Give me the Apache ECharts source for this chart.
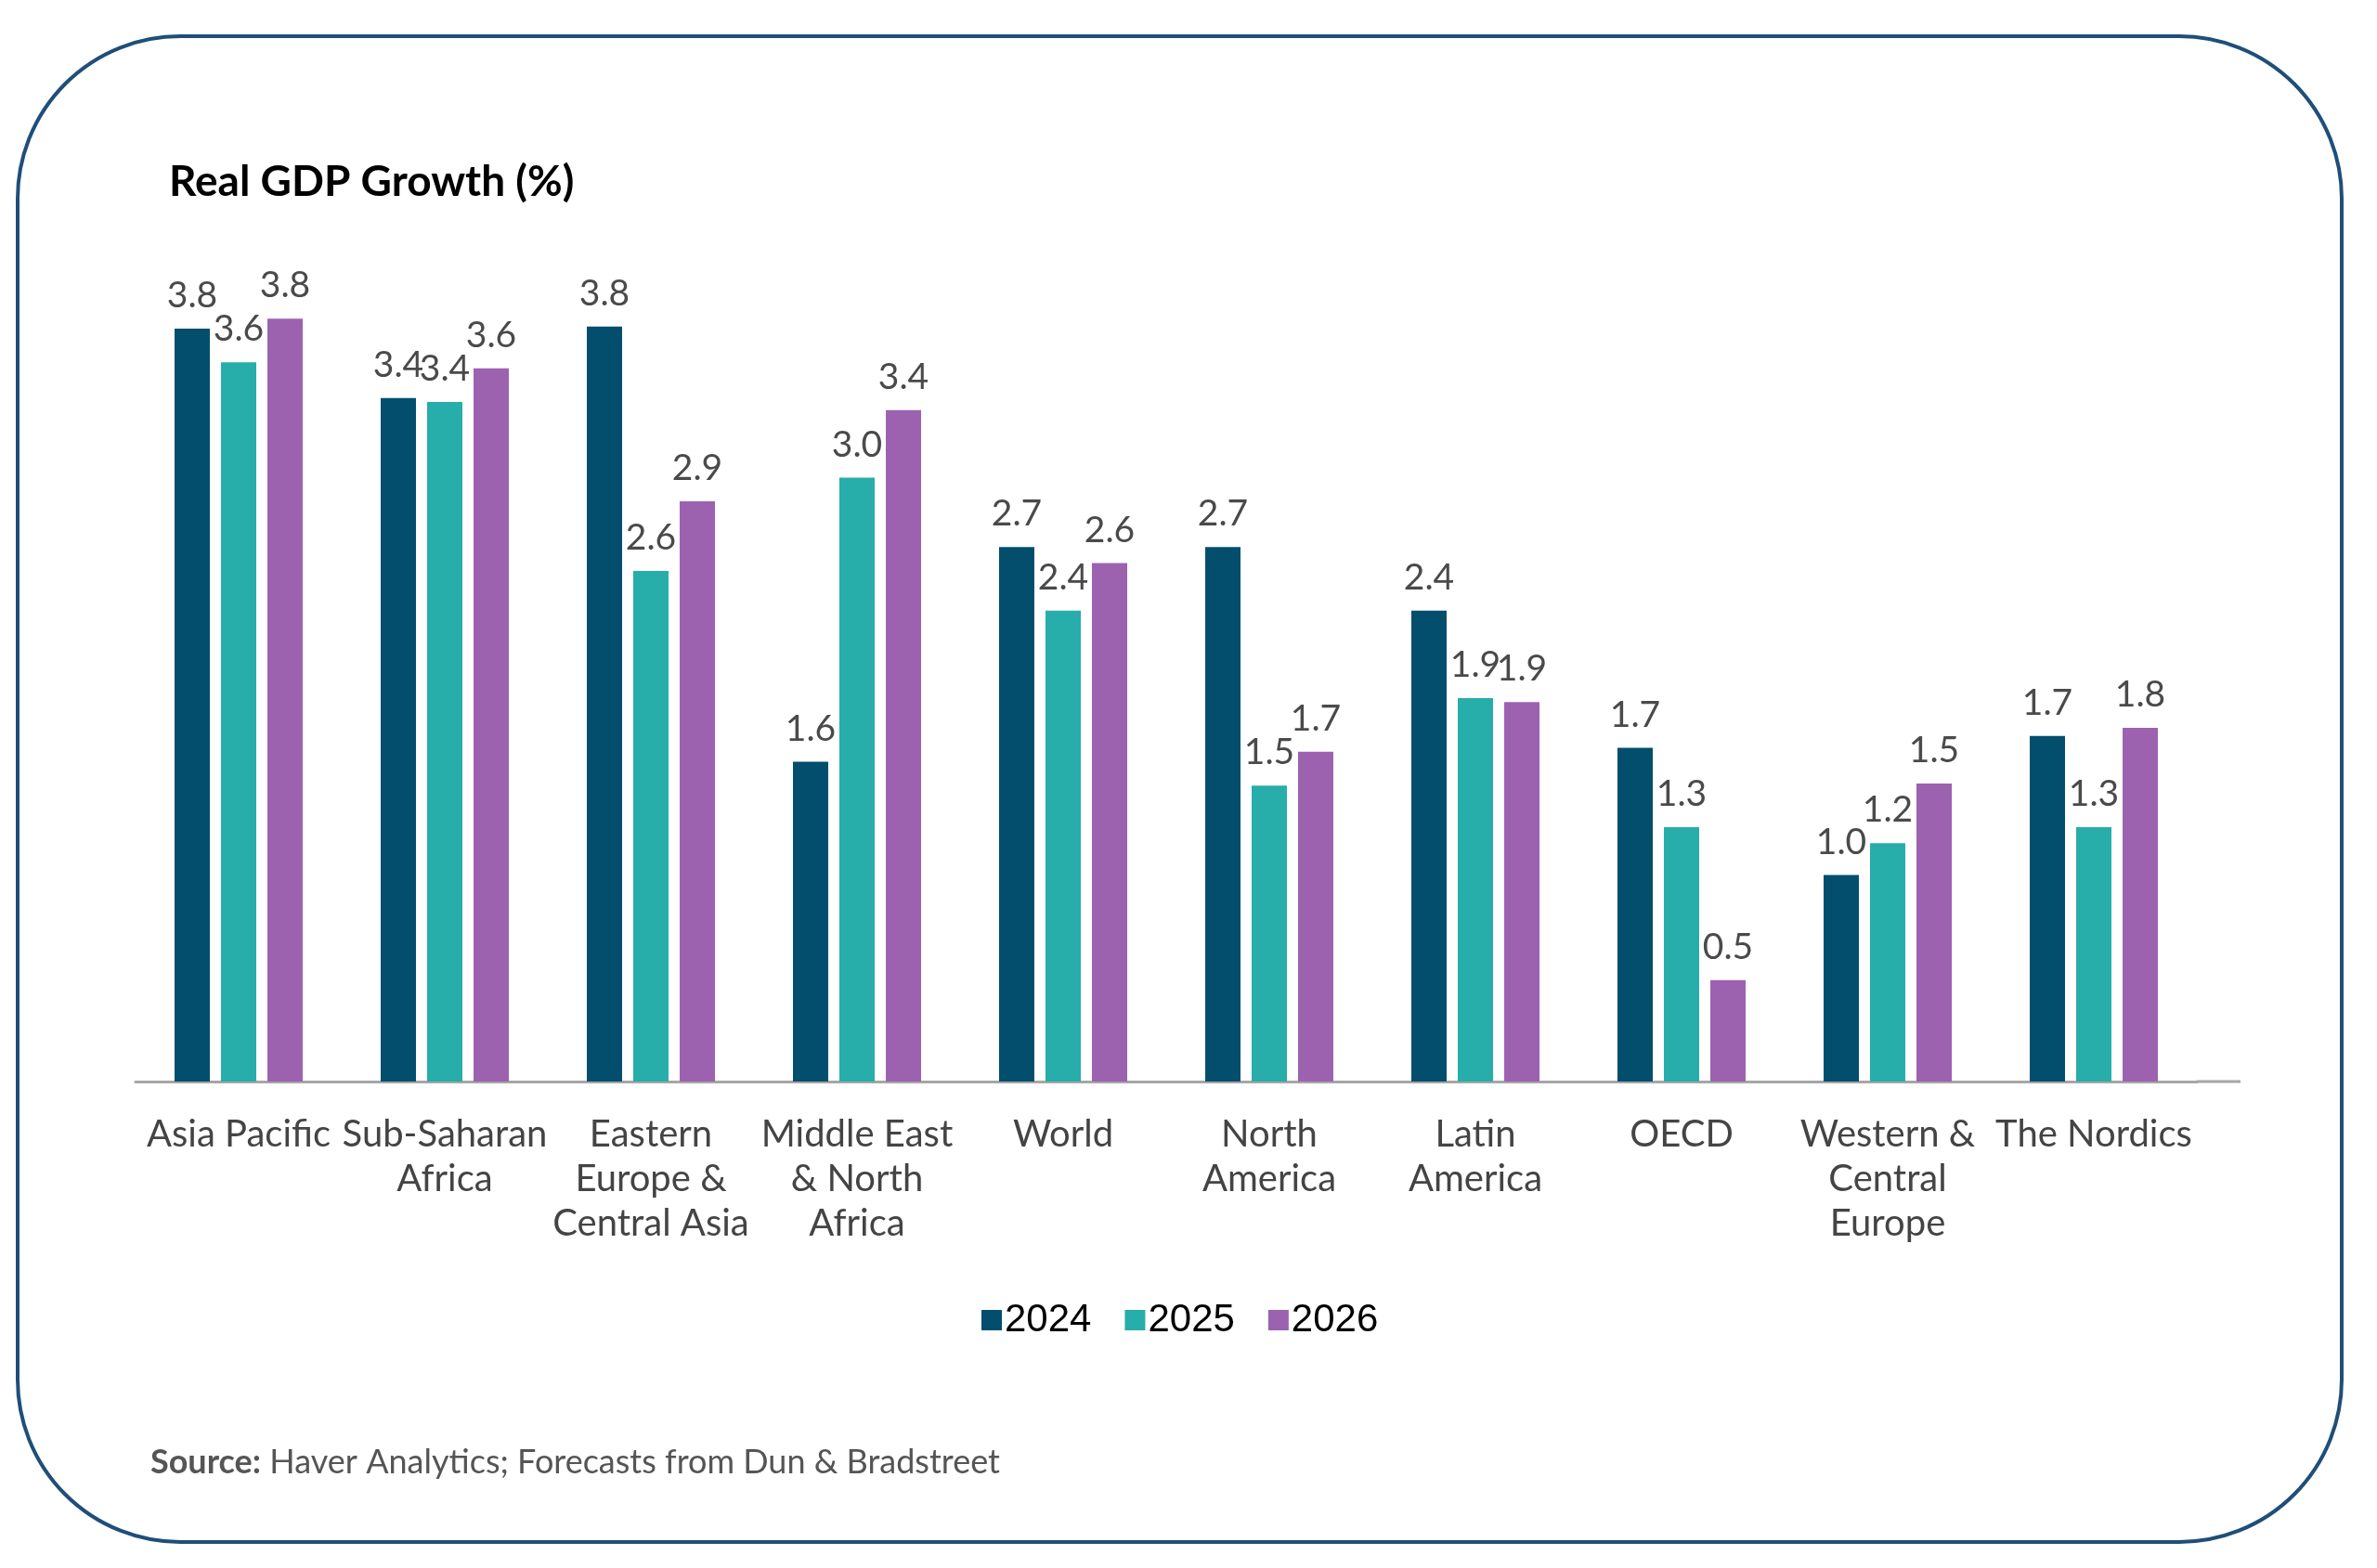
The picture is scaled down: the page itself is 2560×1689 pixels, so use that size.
<!DOCTYPE html>
<html>
<head>
<meta charset="utf-8">
<title>Real GDP Growth (%)</title>
<script src="https://cdn.jsdelivr.net/npm/echarts@6/dist/echarts.min.js"></script>
<style>
  html, body { margin: 0; padding: 0; background: #ffffff; }
  #echarts_1 { width: 2560px; height: 1689px; }
</style>
</head>
<body>
<div id="echarts_1"></div>
<script>
// regions along the x axis
var regions = [
	'Asia Pacific',
	'Sub-Saharan\nAfrica',
	'Eastern\nEurope &\nCentral Asia',
	'Middle East\n& North\nAfrica',
	'World',
	'North\nAmerica',
	'Latin\nAmerica',
	'OECD',
	'Western &\nCentral\nEurope',
	'The Nordics'
];

var years = ['2024', '2025', '2026'];

// real GDP growth, %
var gdp_2024 = [3.79, 3.44, 3.80, 1.61, 2.69, 2.69, 2.37, 1.68, 1.04, 1.74];
var gdp_2025 = [3.62, 3.42, 2.57, 3.04, 2.37, 1.49, 1.93, 1.28, 1.20, 1.28];
var gdp_2026 = [3.84, 3.59, 2.92, 3.38, 2.61, 1.66, 1.91, 0.51, 1.50, 1.78];

var colors = ['#034E6D', '#27ADAA', '#9C62B0'];

var chartDom = document.getElementById('echarts_1');
var myChart = echarts.init(chartDom);
var option;

function barSeries(name, data, color) {
	return {
		name: name,
		type: 'bar',
		data: data,
		barWidth: 38,
		barGap: '31.6%',
		itemStyle: { color: color },
		label: {
			show: true,
			position: 'top',
			distance: 16,
			color: '#4a4a4a',
			fontFamily: 'Lato',
			fontSize: 39,
			formatter: function (p) { return p.value.toFixed(1); }
		}
	};
}

option = {
	backgroundColor: '#ffffff',
	animation: false,
	title: [
		{
			text: 'Real GDP Growth (%)',
			left: 177,
			top: 168,
			textStyle: { fontFamily: 'Lato', fontWeight: 'bold', fontSize: 46, color: '#000000' }
		},
		{
			text: '{b|Source:} Haver Analytics; Forecasts from Dun & Bradstreet',
			left: 157,
			top: 1552,
			textStyle: {
				fontFamily: 'Lato', fontSize: 36, fontWeight: 'normal', color: '#555555',
				rich: {
					b: { fontFamily: 'Lato', fontSize: 36, fontWeight: 'bold', color: '#555555' }
				}
			}
		}
	],
	legend: {
		data: years,
		left: 1052,
		top: 1396,
		icon: 'rect',
		itemWidth: 22,
		itemHeight: 22,
		itemGap: 36,
		textStyle: { fontFamily: 'Liberation Sans', fontSize: 42, color: '#000000', padding: [0, 0, 0, -2] }
	},
	grid: { left: 146, width: 2220, top: 309, bottom: 524 },
	xAxis: {
		type: 'category',
		data: regions,
		axisLine: { lineStyle: { color: '#a6a6a6', width: 3 } },
		axisTick: { show: false },
		axisLabel: {
			interval: 0,
			margin: 33,
			color: '#444444',
			fontFamily: 'Lato',
			fontSize: 40,
			lineHeight: 48,
			align: 'center'
		}
	},
	yAxis: {
		type: 'value',
		min: 0,
		max: 4,
		show: false,
		splitLine: { show: false }
	},
	series: [
		barSeries(years[0], gdp_2024, colors[0]),
		barSeries(years[1], gdp_2025, colors[1]),
		barSeries(years[2], gdp_2026, colors[2])
	],
	graphic: [
		{
			// the baseline runs a little past the last group
			type: 'line',
			silent: true,
			shape: { x1: 2366, y1: 1165, x2: 2413, y2: 1165 },
			style: { stroke: '#a6a6a6', lineWidth: 3 }
		},
		{
			type: 'rect',
			silent: true,
			shape: { x: 19, y: 39, width: 2503, height: 1622, r: 175 },
			style: { fill: 'none', stroke: '#1F4E79', lineWidth: 4 }
		}
	]
};

option && myChart.setOption(option);
</script>
</body>
</html>
